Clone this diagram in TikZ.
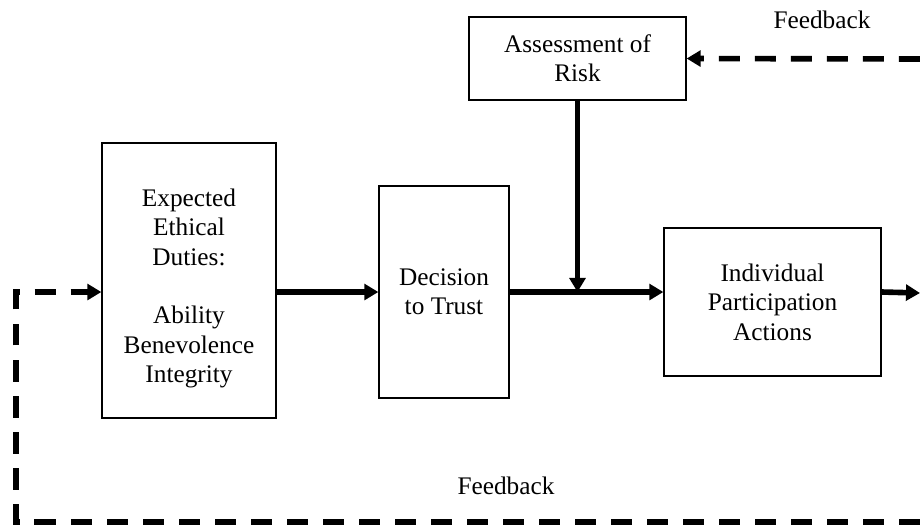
\documentclass[tikz,border=0pt]{standalone}
\usepackage{fontspec}
\setmainfont{Liberation Serif}
\usepackage{tikz}
\usetikzlibrary{arrows.meta, positioning}

\begin{document}
\begin{tikzpicture}[
    x=0.02cm, y=-0.02cm,
    box/.style={draw, line width=0.75pt, align=center, inner sep=0pt, font=\fontsize{14.4}{16.7}\selectfont},
    arrow/.style={-{Triangle[length=8pt, width=9pt]}, line width=3.2pt},
    feedback/.style={arrow, dash pattern=on 12pt off 8.5pt},
    label/.style={font=\fontsize{14.4}{16.7}\selectfont}
]
    \useasboundingbox (0,0) rectangle (920,529);

    % Boxes
    \node[box, minimum width=3.48cm, minimum height=5.5cm] (expect) at (189,280.5) {\rule{0pt}{19pt}Expected\\Ethical\\Duties:\\[16.7pt]Ability\\Benevolence\\Integrity};
    \node[box, minimum width=2.6cm, minimum height=4.24cm] (decide) at (444,292) {Decision\\to Trust};
    \node[box, minimum width=4.34cm, minimum height=1.66cm] (assess) at (577.5,58.5) {Assessment of\\Risk};
    \node[box, minimum width=4.34cm, minimum height=2.96cm] (indiv) at (772.5,302) {Individual\\Participation\\Actions};

    % Free ends
    \coordinate (outR) at (920,293);
    \coordinate (fbTop) at (920,59);
    \coordinate (fbR) at (920,522);
    \coordinate (fbL) at (16,522);

    % Main flow
    \draw[arrow] (expect.east |- decide.west) -- (decide.west);
    \draw[arrow] (decide.east) -- (decide.east -| indiv.west);
    \draw[arrow] (assess.south) -- (assess.south |- decide.east);
    \draw[arrow] (indiv.east |- decide.east) -- (outR);

    % Feedback loops
    \draw[feedback] (fbTop) -- (assess.east);
    \draw[feedback] (fbR) -- (fbL) |- (expect.west |- decide.west);
    \node[label] (fbTopLbl) at (822,20) {Feedback};
    \node[label] (fbBotLbl) at (506,486) {Feedback};
\end{tikzpicture}
\end{document}
